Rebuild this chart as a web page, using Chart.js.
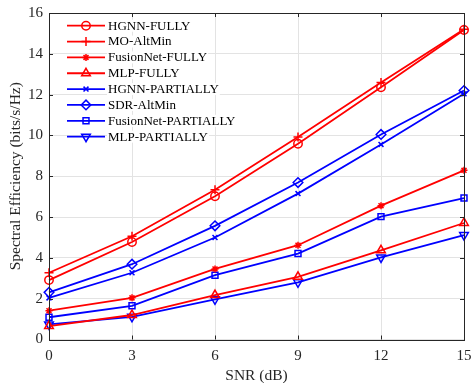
<!DOCTYPE html>
<html>
<head>
<meta charset="utf-8">
<script src="https://cdn.jsdelivr.net/npm/chart.js@4.4.1/dist/chart.umd.min.js"></script>
<style>
  html, body { margin: 0; padding: 0; background: #fff; }
  canvas { display: block; }
</style>
</head>
<body>
<canvas id="se-chart" width="472" height="383"></canvas>
<script>
// SNR points (dB) and spectral efficiency (bits/s/Hz)
const snr = [0, 3, 6, 9, 12, 15];
const xTicks = [0, 3, 6, 9, 12, 15];
const yTicks = [0, 2, 4, 6, 8, 10, 12, 14, 16];

const hgnnFully = [2.91, 4.78, 7.02, 9.59, 12.36, 15.17];
const moAltMin = [3.27, 5.06, 7.34, 9.92, 12.60, 15.20];
const fusionNetFully = [1.41, 2.04, 3.46, 4.62, 6.56, 8.29];
const mlpFully = [0.66, 1.20, 2.18, 3.07, 4.37, 5.71];
const hgnnPartially = [2.04, 3.27, 5.00, 7.15, 9.56, 12.04];
const sdrAltMin = [2.31, 3.69, 5.57, 7.69, 10.05, 12.20];
const fusionNetPartially = [1.09, 1.65, 3.15, 4.21, 6.02, 6.93];
const mlpPartially = [0.74, 1.11, 1.97, 2.80, 4.02, 5.12];

const RED = '#ff0000';
const BLUE = '#0000ff';
const AXIS = '#262626';
const FONT = "'Liberation Serif', 'Times New Roman', serif";

function series(label, values, color, pointStyle, radius, rotation) {
    return {
        label: label,
        data: snr.map((x, i) => ({ x: x, y: values[i] })),
        borderColor: color,
        backgroundColor: 'rgba(0,0,0,0)',
        pointBorderColor: color,
        pointBackgroundColor: pointStyle === 'star' ? color : 'rgba(0,0,0,0)',
        borderWidth: 1.8,
        pointBorderWidth: 1.5,
        pointStyle: pointStyle,
        pointRadius: radius,
        pointRotation: rotation || 0,
        tension: 0,
        clip: false,
    };
}

const datasets = [
    series('HGNN-FULLY', hgnnFully, RED, 'circle', 4.2),
    series('MO-AltMin', moAltMin, RED, 'cross', 4.5),
    series('FusionNet-FULLY', fusionNetFully, RED, 'star', 3.5),
    series('MLP-FULLY', mlpFully, RED, 'triangle', 5),
    series('HGNN-PARTIALLY', hgnnPartially, BLUE, 'crossRot', 3.5),
    series('SDR-AltMin', sdrAltMin, BLUE, 'rectRot', 4.8),
    series('FusionNet-PARTIALLY', fusionNetPartially, BLUE, 'rect', 4.2),
    series('MLP-PARTIALLY', mlpPartially, BLUE, 'triangle', 5, 180),
];

// MATLAB-like box, inward ticks and in-plot legend
const matlabAxes = {
    id: 'matlabAxes',
    afterDraw(chart) {
        const ctx = chart.ctx;
        const a = chart.chartArea;
        const xs = chart.scales.x, ys = chart.scales.y;
        ctx.save();
        ctx.strokeStyle = AXIS;
        ctx.lineWidth = 1;
        ctx.beginPath();
        xTicks.forEach(v => {
            const px = Math.round(xs.getPixelForValue(v)) + 0.5;
            ctx.moveTo(px, a.bottom); ctx.lineTo(px, a.bottom - 4);
            ctx.moveTo(px, a.top); ctx.lineTo(px, a.top + 4);
        });
        yTicks.forEach(v => {
            const py = Math.round(ys.getPixelForValue(v)) + 0.5;
            ctx.moveTo(a.left, py); ctx.lineTo(a.left + 4, py);
            ctx.moveTo(a.right, py); ctx.lineTo(a.right - 4, py);
        });
        ctx.stroke();
        ctx.strokeRect(Math.round(a.left) + 0.5, Math.round(a.top) + 0.5,
            Math.round(a.right - a.left), Math.round(a.bottom - a.top));

        // legend
        const x0 = 67, x1 = 105, tx = 108;
        ctx.font = '13px ' + FONT;
        ctx.textBaseline = 'middle';
        chart.data.datasets.forEach((ds, i) => {
            const y = 25.7 + i * 15.85;
            const w = ctx.measureText(ds.label).width;
            ctx.fillStyle = '#fff';
            ctx.fillRect(tx - 1, y - 6, w + 2, 12);
            ctx.strokeStyle = ds.borderColor;
            ctx.lineWidth = 1.8;
            ctx.beginPath();
            ctx.moveTo(x0, y); ctx.lineTo(x1, y);
            ctx.stroke();
            ctx.lineWidth = ds.pointBorderWidth;
            ctx.fillStyle = ds.pointBackgroundColor;
            Chart.helpers.drawPoint(ctx, {
                pointStyle: ds.pointStyle,
                radius: ds.pointRadius,
                rotation: ds.pointRotation,
                borderWidth: ds.pointBorderWidth,
            }, (x0 + x1) / 2, y);
            ctx.fillStyle = '#000';
            ctx.fillText(ds.label, tx, y + 0.5);
        });
        ctx.restore();
    }
};

new Chart(document.getElementById('se-chart'), {
    type: 'line',
    data: { datasets: datasets },
    plugins: [matlabAxes],
    options: {
        responsive: false,
        animation: false,
        layout: { padding: { top: 13, right: 8, left: 0, bottom: 0 } },
        plugins: {
            legend: { display: false },
            tooltip: { enabled: false },
        },
        scales: {
            x: {
                type: 'linear',
                min: 0,
                max: 15,
                afterFit: s => { s.height = 43.5; s.paddingLeft = 0; s.paddingRight = 0; },
                afterBuildTicks: s => { s.ticks = xTicks.map(v => ({ value: v })); },
                grid: { color: '#e3e3e3', drawTicks: false },
                border: { display: false },
                ticks: {
                    padding: 8,
                    color: AXIS,
                    font: { family: FONT, size: 15 },
                    maxRotation: 0,
                },
                title: {
                    display: true,
                    text: 'SNR (dB)',
                    color: AXIS,
                    font: { family: FONT, size: 15.5, lineHeight: 0.85 },
                    padding: { top: 0, bottom: 0 },
                }
            },
            y: {
                type: 'linear',
                min: 0,
                max: 16,
                afterFit: s => { s.width = 49; s.paddingTop = 0; s.paddingBottom = 0; },
                afterBuildTicks: s => { s.ticks = yTicks.map(v => ({ value: v })); },
                grid: { color: '#e3e3e3', drawTicks: false },
                border: { display: false },
                ticks: {
                    padding: 6,
                    color: AXIS,
                    font: { family: FONT, size: 15 },
                },
                title: {
                    display: true,
                    text: 'Spectral Efficiency (bits/s/Hz)',
                    color: AXIS,
                    font: { family: FONT, size: 15.5, lineHeight: 1 },
                    padding: { top: 8.5, bottom: 0 },
                }
            }
        }
    }
});
</script>
</body>
</html>
